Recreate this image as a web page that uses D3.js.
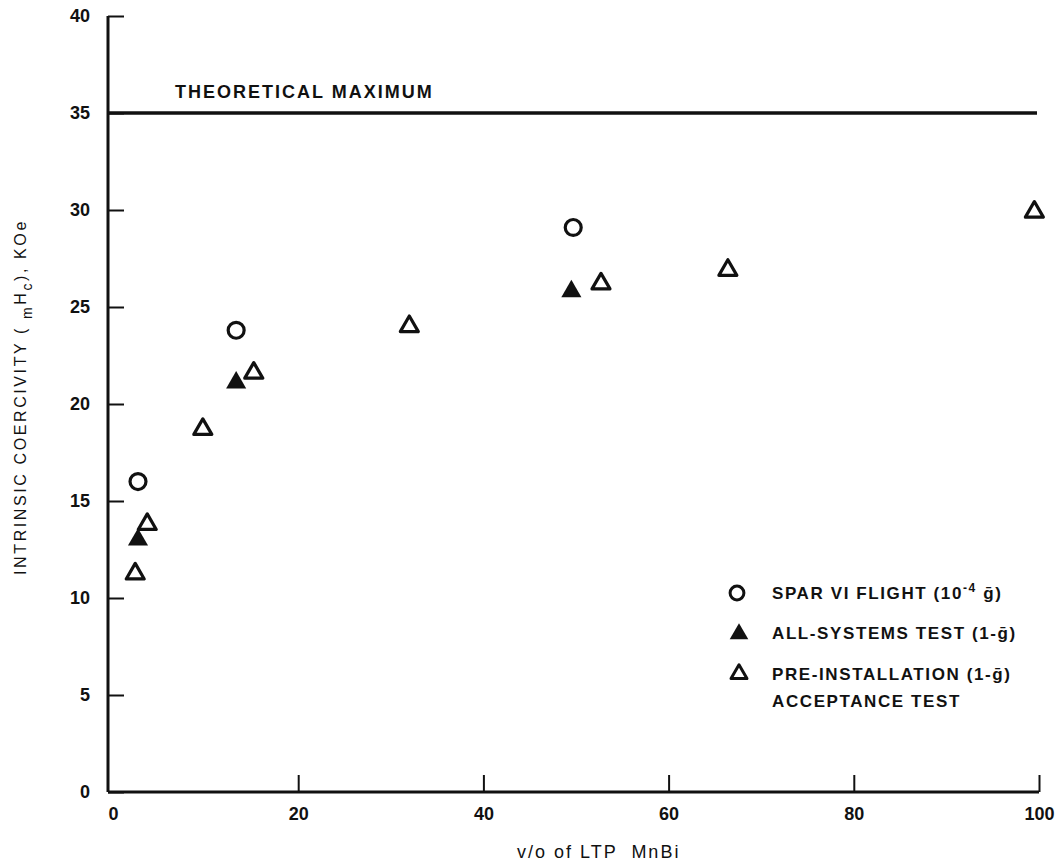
<!DOCTYPE html>
<html>
<head>
<meta charset="utf-8">
<script src="https://cdn.jsdelivr.net/npm/d3@7"></script>
<style>
  body { margin: 0; background: #fff; }
  svg { display: block; }
  text { font-family: "Liberation Sans", Arial, sans-serif; fill: #111; }
</style>
</head>
<body>
<div id="chart"></div>
<script>
// data
const xTicks = [0, 20, 40, 60, 80, 100]
const yTicks = [0, 5, 10, 15, 20, 25, 30, 35, 40]
const theoreticalMax = 35

// SPAR VI flight (open circles)
const sparX = [2.7, 13.3, 49.7]
const sparY = [16.0, 23.8, 29.1]
// all-systems test (filled triangles)
const allSysX = [2.7, 13.3, 49.5]
const allSysY = [13.0, 21.1, 25.8]
// pre-installation acceptance test (open triangles)
const preX = [2.4, 3.7, 9.7, 15.2, 32.0, 52.7, 66.4, 99.5]
const preY = [11.25, 13.8, 18.7, 21.6, 24.0, 26.2, 26.9, 29.9]

const margin = { top: 16, right: 23, bottom: 72, left: 108 }
const width = 1062 - margin.left - margin.right
const height = 864 - margin.top - margin.bottom

const svg = d3.select("#chart").append("svg")
    .attr("width", 1062)
    .attr("height", 864)
    .append("g")
    .attr("transform", "translate(" + margin.left + "," + margin.top + ")")

const x = d3.scaleLinear().domain([0, 100]).range([5, width])
const y = d3.scaleLinear().domain([0, 40]).range([height, 0])

// axes, ticks point inward
const xAxis = d3.axisBottom(x).tickValues(xTicks).tickSize(-17).tickSizeOuter(0).tickPadding(15)
const yAxis = d3.axisLeft(y).tickValues(yTicks).tickSize(-16).tickSizeOuter(0).tickPadding(18)

svg.append("g")
    .attr("transform", "translate(0," + height + ")")
    .call(xAxis)
    .call(g => g.select(".domain").remove())
    .call(g => g.selectAll(".tick line").attr("stroke", "#111").attr("stroke-width", 2)
        .style("display", d => d === 0 ? "none" : null))
    .call(g => g.selectAll(".tick text").style("font-size", "18px").style("font-weight", "bold")
        .style("font-family", "Liberation Sans, Arial, sans-serif").attr("fill", "#111"))

svg.append("g")
    .call(yAxis)
    .call(g => g.select(".domain").remove())
    .call(g => g.selectAll(".tick line").attr("stroke", "#111").attr("stroke-width", 2))
    .call(g => g.selectAll(".tick text").style("font-size", "18px").style("font-weight", "bold")
        .style("font-family", "Liberation Sans, Arial, sans-serif").attr("fill", "#111"))

// axis lines
svg.append("line")
    .attr("x1", 0).attr("y1", 0).attr("x2", 0).attr("y2", height)
    .attr("stroke", "#111").attr("stroke-width", 3)
svg.append("line")
    .attr("x1", 0).attr("y1", height).attr("x2", x(100)).attr("y2", height)
    .attr("stroke", "#111").attr("stroke-width", 3)

// theoretical maximum line
svg.append("line")
    .attr("x1", 0).attr("y1", y(theoreticalMax))
    .attr("x2", x(100) - 2).attr("y2", y(theoreticalMax))
    .attr("stroke", "#111").attr("stroke-width", 3.5)
svg.append("text")
    .text("THEORETICAL MAXIMUM")
    .attr("x", x(6.7))
    .attr("y", y(theoreticalMax) - 15)
    .style("font-size", "18px")
    .style("font-weight", "bold")
    .style("letter-spacing", "2px")

// markers
const circleSym = d3.symbol().type(d3.symbolCircle).size(200)
const triSym = d3.symbol().type(d3.symbolTriangle).size(175)
const triOpen = d3.symbol().type(d3.symbolTriangle).size(140)

svg.selectAll(".spar")
    .data(sparX.map((v, i) => [v, sparY[i]]))
    .enter().append("path")
    .attr("class", "spar")
    .attr("d", circleSym)
    .attr("transform", d => "translate(" + x(d[0]) + "," + y(d[1]) + ")")
    .attr("fill", "none").attr("stroke", "#111").attr("stroke-width", 3.2)

svg.selectAll(".allsys")
    .data(allSysX.map((v, i) => [v, allSysY[i]]))
    .enter().append("path")
    .attr("class", "allsys")
    .attr("d", triSym)
    .attr("transform", d => "translate(" + x(d[0]) + "," + y(d[1]) + ")")
    .attr("fill", "#111")

svg.selectAll(".pre")
    .data(preX.map((v, i) => [v, preY[i]]))
    .enter().append("path")
    .attr("class", "pre")
    .attr("d", triOpen)
    .attr("transform", d => "translate(" + x(d[0]) + "," + y(d[1]) + ")")
    .attr("fill", "none").attr("stroke", "#111").attr("stroke-width", 3.2)
    .attr("stroke-linejoin", "round")

// legend
const legend = svg.append("g").attr("transform", "translate(629,577)")
legend.append("path").attr("d", d3.symbol().type(d3.symbolCircle).size(150))
    .attr("fill", "none").attr("stroke", "#111").attr("stroke-width", 3)
legend.append("path").attr("d", d3.symbol().type(d3.symbolTriangle).size(150))
    .attr("transform", "translate(2,41)").attr("fill", "#111")
legend.append("path").attr("d", d3.symbol().type(d3.symbolTriangle).size(110))
    .attr("transform", "translate(2,81)")
    .attr("fill", "none").attr("stroke", "#111").attr("stroke-width", 3).attr("stroke-linejoin", "round")

const legText = legend.append("g")
    .style("font-size", "17px").style("font-weight", "bold").style("letter-spacing", "1.6px")
const t1 = legText.append("text").attr("x", 35).attr("y", 6)
t1.append("tspan").text("SPAR VI FLIGHT (10")
t1.append("tspan").text("-4").attr("dy", -7).style("font-size", "12px")
t1.append("tspan").text(" \u1E21)").attr("dy", 7)
legText.append("text").attr("x", 35).attr("y", 46).text("ALL-SYSTEMS TEST (1-\u1E21)")
legText.append("text").attr("x", 35).attr("y", 87).text("PRE-INSTALLATION (1-\u1E21)")
legText.append("text").attr("x", 35).attr("y", 114).text("ACCEPTANCE TEST")

// x axis title
svg.append("text")
    .text("v/o of LTP  MnBi")
    .attr("x", 409)
    .attr("y", height + 66)
    .style("font-size", "18px")
    .style("letter-spacing", "2px")
    .style("white-space", "pre")

// y axis title with subscripts
const yTitle = svg.append("text")
    .attr("transform", "translate(" + (-82) + "," + 381 + ") rotate(-90)")
    .style("text-anchor", "middle")
    .style("font-size", "16px")
    .style("letter-spacing", "2.6px")
yTitle.append("tspan").text("INTRINSIC COERCIVITY ( ")
yTitle.append("tspan").text("m").attr("dy", 6).style("font-size", "14px")
yTitle.append("tspan").text("H").attr("dy", -6)
yTitle.append("tspan").text("c").attr("dy", 6).style("font-size", "14px")
yTitle.append("tspan").text("), KOe").attr("dy", -6)
</script>
</body>
</html>
